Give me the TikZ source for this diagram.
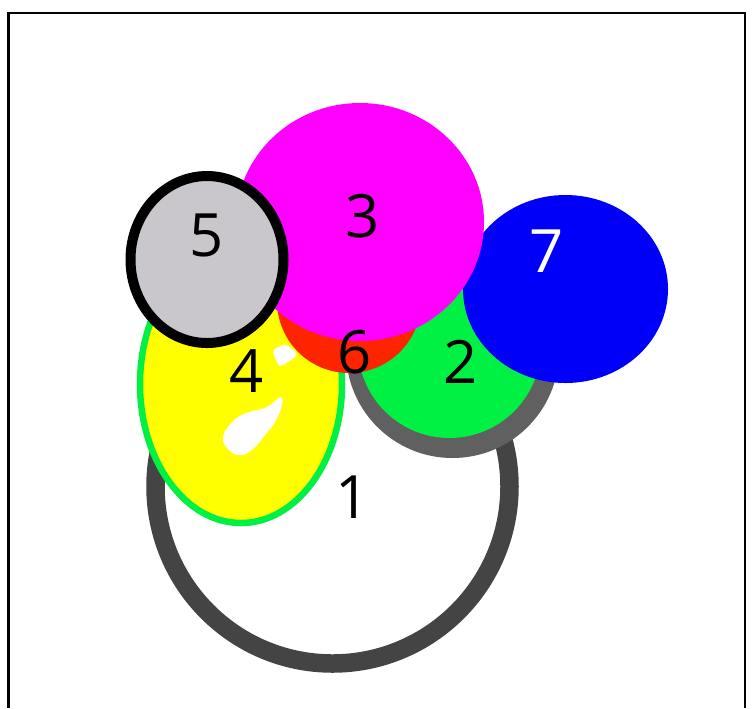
\documentclass[tikz,border=0pt]{standalone}
\usepackage{fontspec}
\setmainfont{Open Sans}
\definecolor{ringdark}{HTML}{444444}
\definecolor{ringmid}{HTML}{606060}
\definecolor{leafgreen}{HTML}{00F043}
\definecolor{sunyellow}{HTML}{FFFF00}
\definecolor{hotred}{HTML}{FF2400}
\definecolor{hotpink}{HTML}{FF00FF}
\definecolor{deepblue}{HTML}{0000FA}
\definecolor{paleslate}{HTML}{C9C7CC}

\begin{document}
\begin{tikzpicture}[
    x=0.02cm,
    y=-0.02cm,
    num/.style={
        inner sep=0pt,
        font=\fontsize{34}{40}\selectfont
      },
    frameline/.style={line width=0.045cm,black},
    ringone/.style={draw=ringdark,fill=white,line width=0.37cm},
    ringtwo/.style={fill=ringmid},
    ovalfour/.style={draw=leafgreen,fill=sunyellow,line width=0.13cm},
    discfive/.style={draw=black,fill=paleslate,line width=0.2cm}
    ]

    \useasboundingbox (0,0) rectangle (753,708);
    \draw[frameline] (8.5,708) -- (8.5,13) -- (745,13) -- (745,708);

    \draw[ringone] (332.5,486.5) circle[radius=177];
    \fill[ringtwo] (452.5,351.5) circle[radius=106.5];
    \fill[leafgreen] (449.5,346.5) circle[radius=91.5];
    \draw[ovalfour] (241,384) ellipse[x radius=101,y radius=139];
    \fill[white,rounded corners=4pt] (221,437) -- (233,420) -- (247,412) -- (267,408)
      -- (283,394) -- (282,407) -- (275,423) -- (253,450) -- (240,457) -- (227,450) -- cycle;
    \fill[white,rounded corners=2pt] (272,350) -- (286,344) -- (298,354) -- (290,361) -- (279,367) -- cycle;
    \fill[hotred] (349,301) circle[radius=72];
    \fill[deepblue] (565.5,289) ellipse[x radius=102.5,y radius=94];
    \fill[hotpink] (360,222) ellipse[x radius=124,y radius=119];
    \draw[discfive] (207,259.5) ellipse[x radius=76.5,y radius=83.5];

    \node[num] (one) at (353,497) {1};
    \node[num] (two) at (461,362) {2};
    \node[num] (three) at (362.5,216) {3};
    \node[num] (four) at (247,371) {4};
    \node[num] (five) at (206.5,235) {5};
    \node[num] (six) at (355,352) {6};
    \node[num,text=white] (seven) at (547,251) {7};

  \end{tikzpicture}
\end{document}
